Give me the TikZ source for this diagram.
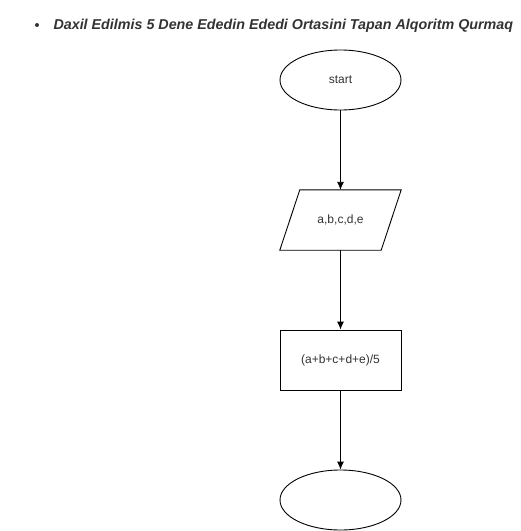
\documentclass[tikz,border=0pt]{standalone}
\usepackage{fontspec}
\setmainfont{Liberation Sans}
\usepackage{tikz}
\usetikzlibrary{shapes.geometric}
\usetikzlibrary{arrows.meta}
\definecolor{inkgray}{HTML}{333333}

\begin{document}
\begin{tikzpicture}[x=1pt,y=-1pt,
    every node/.style={font=\fontsize{12}{14}\selectfont, text=inkgray},
    term/.style={draw, line width=0.9pt, ellipse, minimum width=121pt, minimum height=60pt, inner sep=0pt},
    io/.style={rectangle, minimum width=101pt, minimum height=60pt, inner sep=0pt},
    proc/.style={draw, line width=0.9pt, rectangle, minimum width=121pt, minimum height=60pt, inner sep=0pt},
    flow/.style={line width=0.9pt, -{Latex[length=8pt,width=7pt]}}]
    \useasboundingbox (0,0) rectangle (521,531);
    \fill[inkgray] (37,25) circle[radius=2pt];
    \node[anchor=base west, font=\fontsize{14.3}{16}\selectfont\bfseries\itshape] (title) at (50,29)
      {Daxil Edilmis 5 Dene Ededin Ededi Ortasini Tapan Alqoritm Qurmaq};
    \node[term] (start) at (340.5,80) {start};
    \node[io] (input) at (340.5,220) {a,b,c,d,e};
    \draw[line width=0.9pt] ([xshift=10pt]input.north west) -- ([xshift=10pt]input.north east)
      -- ([xshift=-10pt]input.south east) -- ([xshift=-10pt]input.south west) -- cycle;
    \node[proc] (avg) at (340.5,360) {(a+b+c+d+e)/5};
    \node[term] (stop) at (340.5,500) {};
    \draw[flow] (start) to (input);
    \draw[flow] (input) to (avg);
    \draw[flow] (avg) to (stop);
  \end{tikzpicture}
\end{document}
